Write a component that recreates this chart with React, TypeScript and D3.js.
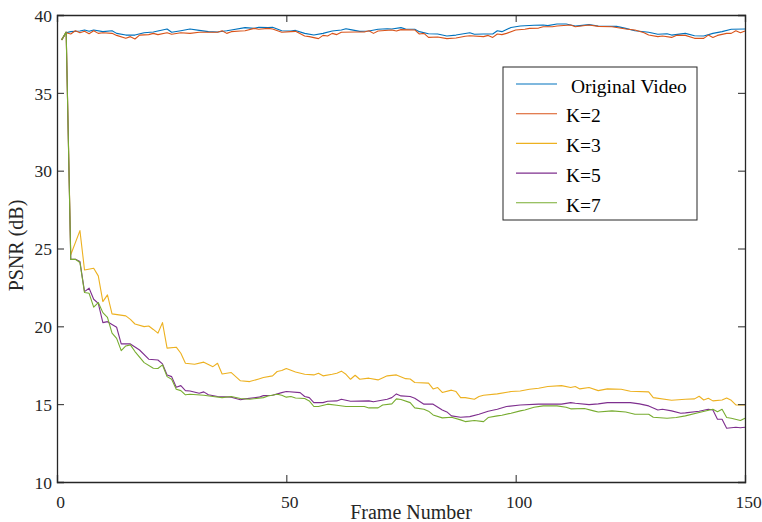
import { useEffect, useRef } from "react";
import * as d3 from "d3";

// [frame, PSNR] pairs
const originalVideo = [
  [1, 38.4], [2, 38.86], [3, 38.93], [5, 38.97], [6, 39.04], [7, 38.95], [8, 39.04], [10, 38.93],
  [12, 38.99], [13, 38.82], [15, 38.71], [17, 38.71], [19, 38.86], [21, 38.91], [22, 38.97], [24, 39.1],
  [25, 38.89], [27, 38.99], [29, 39.1], [31, 39.01], [33, 38.93], [35, 38.91], [37, 38.99], [38, 39.04],
  [41, 39.19], [43, 39.14], [44, 39.21], [46, 39.19], [47, 39.21], [49, 38.99], [51, 38.97], [52, 39.01],
  [54, 38.82], [56, 38.71], [58, 38.82], [60, 38.97], [62, 39.04], [63, 39.12], [64, 39.06], [66, 38.95],
  [68, 38.97], [70, 39.08], [72, 39.12], [73, 39.1], [75, 39.19], [76, 39.1], [78, 39.08], [79, 38.93],
  [81, 38.8], [83, 38.78], [85, 38.65], [87, 38.71], [90, 38.86], [91, 38.76], [93, 38.78], [95, 38.78],
  [96, 38.99], [97, 38.93], [99, 39.2], [101, 39.29], [104, 39.34], [106, 39.36], [107, 39.32], [109, 39.42],
  [111, 39.42], [113, 39.29], [114, 39.32], [116, 39.38], [118, 39.29], [122, 39.27], [124, 39.14], [126, 38.99],
  [129, 38.89], [131, 38.76], [133, 38.8], [134, 38.71], [137, 38.82], [139, 38.67], [141, 38.65], [143, 38.82],
  [145, 38.93], [147, 39.08], [150, 39.1],
];

const k2 = [
  [1, 38.4], [2, 38.86], [3, 38.78], [4, 38.99], [5, 38.86], [6, 38.95], [7, 38.8], [8, 38.99], [9, 38.82],
  [10, 38.86], [12, 38.82], [13, 38.69], [15, 38.5], [16, 38.61], [17, 38.46], [18, 38.71], [20, 38.74],
  [21, 38.82], [22, 38.74], [24, 38.86], [25, 38.76], [27, 38.86], [29, 38.82], [31, 38.89], [35, 38.89],
  [36, 38.99], [37, 38.82], [38, 38.93], [40, 38.97], [41, 38.99], [43, 39.14], [44, 39.08], [46, 39.14],
  [47, 39.1], [49, 38.89], [51, 38.93], [52, 38.95], [54, 38.65], [55, 38.61], [57, 38.48], [58, 38.69],
  [59, 38.65], [60, 38.82], [61, 38.74], [62, 38.89], [65, 38.91], [67, 38.91], [68, 38.99], [69, 38.82],
  [70, 38.97], [73, 39.04], [74, 38.97], [75, 39.06], [78, 39.04], [79, 38.78], [80, 38.82], [81, 38.56],
  [83, 38.59], [85, 38.48], [87, 38.52], [89, 38.63], [90, 38.67], [93, 38.61], [94, 38.69], [95, 38.56],
  [96, 38.78], [97, 38.74], [98, 38.82], [100, 39.04], [102, 39.08], [103, 39.14], [105, 39.16], [106, 39.25],
  [108, 39.25], [109, 39.29], [112, 39.36], [113, 39.25], [116, 39.36], [118, 39.27], [121, 39.25], [124, 39.1],
  [126, 39.04], [128, 38.86], [129, 38.71], [131, 38.61], [132, 38.65], [134, 38.56], [135, 38.69], [137, 38.69],
  [139, 38.5], [141, 38.5], [142, 38.71], [143, 38.56], [144, 38.69], [146, 38.82], [147, 38.82], [148, 38.99],
  [149, 38.86], [150, 38.97],
];

const k3 = [
  [1, 38.4], [2, 38.9], [3, 24.6], [5, 26.15], [6, 23.62], [8, 23.73], [9, 23.24], [10, 21.59], [11, 22.02],
  [12, 20.8], [15, 20.67], [16, 20.45], [17, 20.15], [19, 19.98], [20, 20.02], [21, 19.8], [22, 19.56],
  [23, 20.24], [24, 18.6], [26, 18.66], [27, 18.27], [28, 17.63], [30, 17.56], [32, 17.7], [34, 17.41],
  [35, 17.63], [36, 16.94], [38, 17.03], [40, 16.5], [42, 16.45], [44, 16.62], [45, 16.71], [47, 16.82],
  [48, 17.1], [49, 17.16], [50, 17.29], [52, 17.07], [54, 16.92], [56, 16.88], [57, 16.99], [58, 16.82],
  [60, 16.92], [61, 16.99], [62, 17.12], [63, 16.92], [64, 16.6], [65, 16.86], [66, 16.6], [68, 16.67],
  [70, 16.56], [72, 16.82], [74, 16.88], [76, 16.64], [77, 16.62], [78, 16.39], [81, 16.35], [82, 15.98],
  [83, 16.07], [84, 15.75], [86, 15.9], [87, 15.81], [88, 15.42], [89, 15.42], [91, 15.32], [92, 15.49],
  [93, 15.57], [96, 15.66], [99, 15.81], [101, 15.85], [103, 15.96], [105, 16.02], [107, 16.13], [110, 16.19],
  [112, 16.07], [113, 16.13], [114, 15.98], [116, 16.07], [118, 15.87], [120, 15.98], [123, 15.96], [125, 15.83],
  [129, 15.79], [130, 15.42], [134, 15.25], [137, 15.32], [139, 15.34], [140, 15.51], [141, 15.27], [142, 15.38],
  [143, 15.21], [145, 15.27], [146, 15.4], [147, 15.25], [148, 14.95], [150, 14.95],
];

const k5 = [
  [1, 38.4], [2, 38.9], [3, 24.3], [4, 24.31], [5, 24.16], [6, 22.23], [7, 22.45], [8, 21.74], [9, 21.48],
  [10, 20.24], [11, 20.3], [13, 19.94], [14, 18.87], [16, 18.87], [18, 18.48], [20, 17.89], [22, 17.84],
  [23, 17.59], [24, 16.88], [25, 16.77], [26, 16.09], [27, 16.19], [28, 15.87], [29, 15.85], [31, 15.7],
  [32, 15.79], [33, 15.6], [35, 15.49], [38, 15.45], [40, 15.28], [41, 15.34], [44, 15.45], [45, 15.55],
  [47, 15.57], [49, 15.74], [50, 15.81], [53, 15.74], [54, 15.49], [55, 15.42], [56, 15.1], [58, 15.1],
  [59, 15.19], [61, 15.21], [62, 15.32], [64, 15.19], [68, 15.21], [69, 15.15], [72, 15.32], [73, 15.42],
  [74, 15.66], [75, 15.53], [77, 15.49], [78, 15.38], [80, 15.0], [82, 15.0], [84, 14.63], [85, 14.5],
  [86, 14.25], [88, 14.16], [90, 14.2], [92, 14.35], [94, 14.55], [96, 14.67], [98, 14.85], [101, 14.95],
  [105, 15.0], [110, 15.0], [112, 15.1], [113, 15.06], [116, 14.97], [118, 15.02], [120, 15.1], [125, 15.1],
  [127, 15.02], [129, 14.89], [131, 14.63], [132, 14.67], [134, 14.57], [136, 14.42], [137, 14.44], [140, 14.55],
  [142, 14.67], [143, 14.63], [144, 14.03], [145, 14.03], [146, 13.45], [148, 13.52], [149, 13.48], [150, 13.52],
];

const k7 = [
  [1, 38.4], [2, 38.9], [3, 24.3], [4, 24.31], [5, 24.1], [6, 22.17], [7, 22.12], [8, 21.23], [9, 21.53],
  [10, 20.88], [11, 20.58], [12, 19.56], [13, 19.23], [14, 18.44], [15, 18.74], [16, 18.81], [17, 18.38],
  [19, 17.67], [21, 17.31], [22, 17.29], [23, 17.52], [24, 16.77], [25, 16.6], [26, 15.96], [27, 15.87],
  [28, 15.6], [29, 15.64], [32, 15.57], [34, 15.49], [36, 15.42], [38, 15.49], [40, 15.36], [42, 15.32],
  [45, 15.42], [46, 15.53], [48, 15.64], [49, 15.57], [50, 15.45], [51, 15.49], [52, 15.4], [54, 15.36],
  [55, 15.21], [56, 14.85], [57, 14.85], [59, 15.0], [61, 14.93], [63, 14.85], [67, 14.85], [68, 14.76],
  [70, 14.76], [71, 14.95], [73, 15.02], [74, 15.34], [75, 15.3], [77, 15.1], [78, 14.76], [80, 14.67],
  [81, 14.55], [82, 14.31], [84, 14.12], [86, 14.16], [88, 13.99], [89, 13.88], [91, 13.95], [93, 13.88],
  [94, 14.14], [96, 14.25], [97, 14.29], [99, 14.42], [101, 14.57], [102, 14.63], [104, 14.8], [106, 14.89],
  [109, 14.89], [111, 14.8], [112, 14.7], [115, 14.72], [117, 14.57], [118, 14.5], [121, 14.57], [124, 14.5],
  [126, 14.35], [129, 14.35], [130, 14.16], [133, 14.1], [135, 14.14], [137, 14.25], [140, 14.46], [143, 14.67],
  [144, 14.52], [145, 14.67], [146, 14.14], [147, 14.1], [149, 13.95], [150, 14.1],
];

const seriesNames = [" Original Video", "K=2", "K=3", "K=5", "K=7"];
const seriesColors = ["#0072BD", "#D95319", "#EDB120", "#7E2F8E", "#77AC30"];
const seriesData = [originalVideo, k2, k3, k5, k7];

const xTicks = [0, 50, 100, 150];
const yTicks = [10, 15, 20, 25, 30, 35, 40];

const App = () => {
  const ref = useRef<SVGSVGElement>(null);

  const width = 762;
  const height = 522;
  const left = 57;
  const right = 745;
  const top = 15;
  const bottom = 482;
  const font = "'Liberation Serif', 'Times New Roman', serif";
  const axisColor = "#262626";

  const x = d3.scaleLinear().domain([0, 150]).range([left, right]);
  const y = d3.scaleLinear().domain([10, 40]).range([bottom, top]);

  useEffect(() => {
    const svg = d3.select(ref.current);
    svg.selectAll("*").remove();
    svg.attr("width", width).attr("height", height).attr("viewBox", [0, 0, width, height]);

    svg.append("rect").attr("width", width).attr("height", height).attr("fill", "white");

    const line = d3
      .line<number[]>()
      .x((d) => x(d[0]))
      .y((d) => y(d[1]));

    // series
    svg
      .append("g")
      .attr("fill", "none")
      .attr("stroke-width", 1.1)
      .attr("stroke-linejoin", "round")
      .selectAll("path")
      .data(seriesData)
      .join("path")
      .attr("stroke", (_, i) => seriesColors[i])
      .attr("d", (d) => line(d));

    // box axes, ticks pointing inward
    const tickLen = 7;
    const bottomAxis = svg
      .append("g")
      .attr("transform", `translate(0,${bottom})`)
      .call(d3.axisBottom(x).tickValues(xTicks).tickSize(-tickLen).tickPadding(14).tickFormat(d3.format("d")));
    const leftAxis = svg
      .append("g")
      .attr("transform", `translate(${left},0)`)
      .call(d3.axisLeft(y).tickValues(yTicks).tickSize(-tickLen).tickPadding(5).tickFormat(d3.format("d")));
    const topAxis = svg
      .append("g")
      .attr("transform", `translate(0,${top})`)
      .call(d3.axisTop(x).tickValues(xTicks).tickSize(-tickLen).tickFormat(() => ""));
    const rightAxis = svg
      .append("g")
      .attr("transform", `translate(${right},0)`)
      .call(d3.axisRight(y).tickValues(yTicks).tickSize(-tickLen).tickFormat(() => ""));

    for (const g of [bottomAxis, leftAxis, topAxis, rightAxis]) {
      g.attr("font-family", font);
      g.select(".domain").attr("stroke", axisColor).attr("stroke-width", 1.3);
      g.selectAll(".tick line").attr("stroke", axisColor).attr("stroke-width", 1);
      g.selectAll(".tick text")
        .attr("fill", axisColor)
        .attr("font-family", font)
        .attr("font-size", 17.5);
    }
    leftAxis.selectAll(".tick text").attr("dy", "0.36em");
    bottomAxis.selectAll(".tick text").attr("dx", 3);

    // axis titles
    svg
      .append("text")
      .attr("x", 411)
      .attr("y", 519)
      .attr("text-anchor", "middle")
      .attr("font-family", font)
      .attr("font-size", 20)
      .attr("fill", axisColor)
      .text("Frame Number");
    svg
      .append("text")
      .attr("transform", `translate(23,${(top + bottom) / 2 - 3}) rotate(-90)`)
      .attr("text-anchor", "middle")
      .attr("font-family", font)
      .attr("font-size", 20)
      .attr("fill", axisColor)
      .text("PSNR (dB)");

    // legend
    const legend = svg.append("g").attr("font-family", font);
    legend
      .append("rect")
      .attr("x", 503)
      .attr("y", 67)
      .attr("width", 194)
      .attr("height", 153)
      .attr("fill", "white")
      .attr("stroke", axisColor)
      .attr("stroke-width", 1);
    const rows = legend
      .selectAll("g.row")
      .data(seriesNames)
      .join("g")
      .attr("class", "row")
      .attr("transform", (_, i) => `translate(0,${84 + i * 29.7})`);
    rows
      .append("line")
      .attr("x1", 516)
      .attr("x2", 557)
      .attr("stroke", (_, i) => seriesColors[i])
      .attr("stroke-width", 1.1);
    rows
      .append("text")
      .attr("x", 566)
      .attr("dy", "0.45em")
      .attr("font-family", font)
      .attr("font-size", 19.5)
      .attr("fill", "#000")
      .style("white-space", "pre")
      .text((d) => d);
  });

  return <svg ref={ref} style={{ position: "absolute", left: 0, top: 0 }}></svg>;
};

export default App;
